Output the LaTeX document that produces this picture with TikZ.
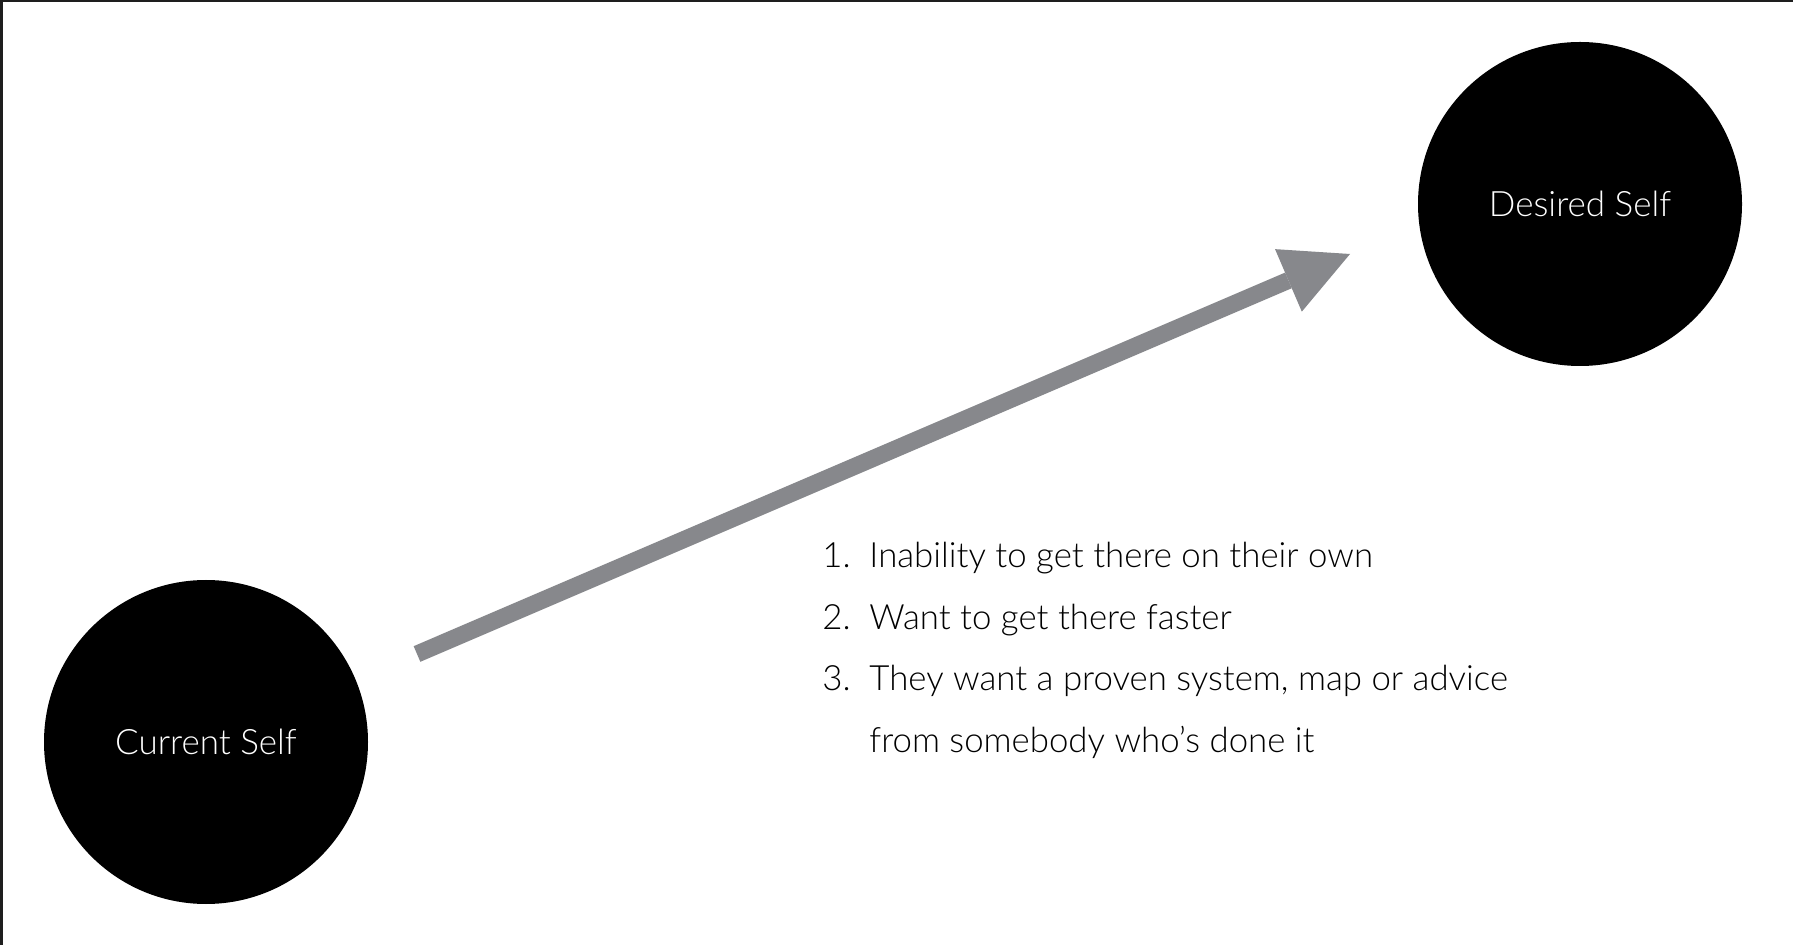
\documentclass[tikz,border=0pt]{standalone}
\usepackage{fontspec}
\setmainfont{Lato Light}
\usetikzlibrary{arrows.meta,positioning}

\definecolor{trendgray}{RGB}{135,136,140}
\definecolor{framegray}{RGB}{30,30,30}

\tikzset{
  self/.style={circle, fill=black, text=white, minimum size=162pt, inner sep=0pt,
    font=\fontsize{17.5}{21}\selectfont},
  trend/.style={draw=trendgray, line width=8.5pt,
    -{Triangle[length=33.5pt,width=34pt,line width=0pt]}},
}

\begin{document}
\begin{tikzpicture}[x=0.5pt,y=-0.5pt]
    \useasboundingbox[fill=white] (0,0) rectangle (1793,945);
    \fill[framegray] (0,0) rectangle (1793,2.5);
    \fill[framegray] (0,0) rectangle (2.5,945);
    \node [self] (cur) at (206,742) {Current Self};
    \node [self] (des) at (1580,204) {Desired Self};
    \coordinate (tail) at (417,654);
    \coordinate (tip) at (1350,254);
    \draw [trend] (tail) -- (tip);
    % reasons
    \node [anchor=base west, inner sep=0pt, font=\fontsize{17.4}{30.75}\selectfont] (why) at (822,568)
      {\begin{tabular}[t]{@{}p{23.5pt}@{}l@{}}
        1. & Inability to get there on their own\\
        2. & Want to get there faster\\
        3. & They want a proven system, map or advice\\
           & from somebody who’s done it
      \end{tabular}};
\end{tikzpicture}
\end{document}
